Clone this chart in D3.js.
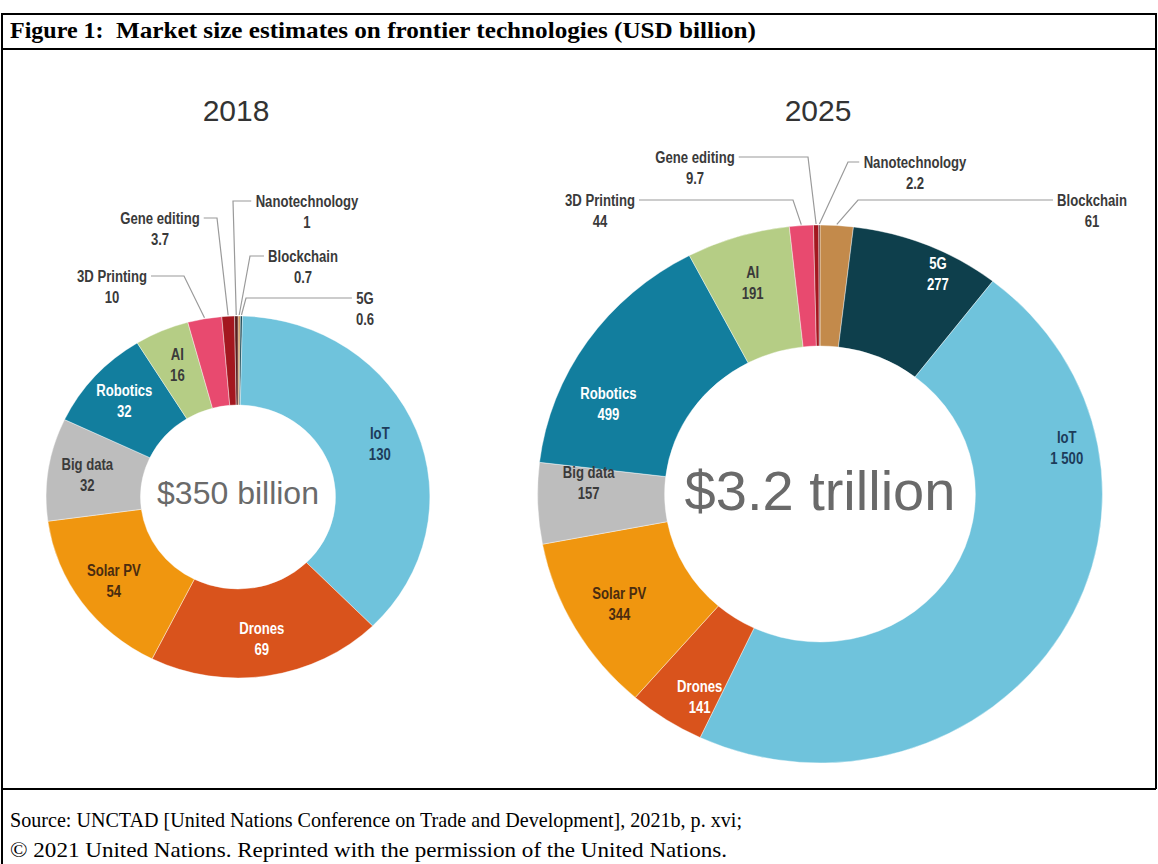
<!DOCTYPE html>
<html>
<head>
<meta charset="utf-8">
<script src="https://cdn.jsdelivr.net/npm/d3@7"></script>
<style>
  html, body { margin: 0; padding: 0; background: #fff; }
  svg { display: block; }
</style>
</head>
<body>
<script>
// ---------------- DATA ----------------
const categories = ["Blockchain","5G","IoT","Drones","Solar PV","Big data","Robotics","AI","3D Printing","Gene editing","Nanotechnology"];
const values2018 = [0.7, 0.6, 130, 69, 54, 32, 32, 16, 10, 3.7, 1];
const values2025 = [61, 277, 1500, 141, 344, 157, 499, 191, 44, 9.7, 2.2];
const valueText2018 = ["0.7","0.6","130","69","54","32","32","16","10","3.7","1"];
const valueText2025 = ["61","277","1 500","141","344","157","499","191","44","9.7","2.2"];
const years = ["2018", "2025"];
const totals = ["$350 billion", "$3.2 trillion"];
const titleLabel = "Figure 1:";
const titleText = "Market size estimates on frontier technologies (USD billion)";
const sourceLines = [
  "Source: UNCTAD [United Nations Conference on Trade and Development], 2021b, p. xvi;",
  "\u00A9 2021 United Nations. Reprinted with the permission of the United Nations."
];

// ---------------- STYLE ----------------
const colors = {
  "Blockchain": "#c38a4b", "5G": "#0e3f4c", "IoT": "#6fc3dc", "Drones": "#d9531c",
  "Solar PV": "#f0960f", "Big data": "#bdbdbd", "Robotics": "#127e9e", "AI": "#b5cd85",
  "3D Printing": "#e84a6f", "Gene editing": "#a3171f", "Nanotechnology": "#5a2020"
};
const textColors = {
  "IoT": "#1d3c5a", "Drones": "#ffffff", "Solar PV": "#4a2c10", "Big data": "#3a3a3a",
  "Robotics": "#ffffff", "AI": "#3a3a3a", "5G": "#ffffff"
};
const outsideColor = "#3a3a3a";

// ---------------- LAYOUT ----------------
const W = 1158, H = 864;
const charts = [
  { values: values2018, texts: valueText2018, cx: 238, cy: 497, ro: 181, ri: 92, sx: 1.06,
    yearY: 110, centerFont: 32, labelR: 0.795,
    inside: ["IoT","Drones","Solar PV","Big data","Robotics","AI"],
    overrides: {},
    outside: {
      "Nanotechnology": { x: 307, y: 201, side: "left",  elbow: 233 },
      "Gene editing":   { x: 160, y: 218, side: "right", elbow: 217 },
      "Blockchain":     { x: 303, y: 256, side: "left",  elbow: 250 },
      "3D Printing":    { x: 112, y: 276, side: "right", elbow: 184 },
      "5G":             { x: 365, y: 298, side: "left",  elbow: 246 }
    } },
  { values: values2025, texts: valueText2025, cx: 820, cy: 494, ro: 269, ri: 148, sx: 1.05,
    yearY: 110, centerFont: 56, labelR: 0.82,
    inside: ["5G","IoT","Drones","Solar PV","Big data","Robotics","AI"],
    overrides: { "IoT": { a: 79, r: 0.89 }, "5G": { a: 27, r: 0.92 }, "Robotics": { a: 294 },
                 "Big data": { a: 273 }, "Drones": { a: 209.5, r: 0.865 } },
    outside: {
      "Gene editing":   { x: 695, y: 157, side: "right", elbow: 808 },
      "Nanotechnology": { x: 915, y: 162, side: "left",  elbow: 848 },
      "3D Printing":    { x: 600, y: 200, side: "right", elbow: 793 },
      "Blockchain":     { x: 1092, y: 200, side: "left", elbow: 858 }
    } }
];

const svg = d3.select("body").append("svg").attr("width", W).attr("height", H);

// frame
const frame = svg.append("g").attr("stroke", "#000").attr("stroke-width", 2).attr("fill", "none");
frame.append("line").attr("x1", 2).attr("x2", 1156).attr("y1", 14).attr("y2", 14);
frame.append("line").attr("x1", 2).attr("x2", 1156).attr("y1", 49).attr("y2", 49);
frame.append("line").attr("x1", 2).attr("x2", 1156).attr("y1", 789).attr("y2", 789);
frame.append("line").attr("x1", 2).attr("x2", 2).attr("y1", 13).attr("y2", 864);
frame.append("line").attr("x1", 1156).attr("x2", 1156).attr("y1", 13).attr("y2", 789);

// title
const serif = "'Liberation Serif', 'Times New Roman', serif";
svg.append("text").attr("x", 10).attr("y", 38)
  .attr("font-family", serif).attr("font-weight", "bold").attr("font-size", 24)
  .text(titleLabel);
svg.append("text").attr("x", 116).attr("y", 38)
  .attr("font-family", serif).attr("font-weight", "bold").attr("font-size", 24)
  .attr("textLength", 640).attr("lengthAdjust", "spacingAndGlyphs")
  .text(titleText);

// source
const srcLens = [732, 717];
sourceLines.forEach((s, i) => {
  svg.append("text").attr("x", 10).attr("y", 827 + i * 30)
    .attr("font-family", serif).attr("font-size", 21)
    .attr("textLength", srcLens[i]).attr("lengthAdjust", "spacingAndGlyphs")
    .attr("fill", "#000")
    .text(s);
});

const labelFont = "'Liberation Sans', Arial, sans-serif";
const narrow = 0.82;

function addLabel(g, x, y, lines, color, size) {
  const t = g.append("text")
    .attr("transform", `translate(${x},${y}) scale(${narrow},1)`)
    .attr("text-anchor", "middle")
    .attr("font-family", labelFont).attr("font-weight", "bold")
    .attr("font-size", size).attr("fill", color);
  lines.forEach((l, i) => {
    t.append("tspan").attr("x", 0).attr("y", i * 21).attr("dy", "0.35em").text(l);
  });
  return t;
}

charts.forEach((c, ci) => {
  const data = categories.map((k, i) => ({ key: k, v: c.values[i], t: c.texts[i] }));
  const pie = d3.pie().sort(null).value(d => d.v).startAngle(0).endAngle(2 * Math.PI);
  const arcs = pie(data);
  const arc = d3.arc().innerRadius(c.ri).outerRadius(c.ro);

  const g = svg.append("g");
  g.append("g")
    .attr("transform", `translate(${c.cx},${c.cy}) scale(${c.sx},1)`)
    .selectAll("path").data(arcs).join("path")
    .attr("d", arc)
    .attr("fill", d => colors[d.data.key])
    .attr("stroke", "#fff").attr("stroke-width", 0.4);

  // year title
  g.append("text").attr("x", c.cx - 2).attr("y", c.yearY).attr("dy", "0.35em")
    .attr("text-anchor", "middle").attr("font-family", labelFont)
    .attr("font-size", 30).attr("fill", "#333").text(years[ci]);

  // center total
  g.append("text").attr("x", c.cx).attr("y", c.cy - 4).attr("dy", "0.35em")
    .attr("text-anchor", "middle").attr("font-family", labelFont)
    .attr("font-size", c.centerFont).attr("fill", "#6a6a6a").text(totals[ci]);

  const pt = (angDeg, r) => {
    const a = angDeg * Math.PI / 180;
    return [c.cx + c.sx * r * Math.sin(a), c.cy - r * Math.cos(a)];
  };

  arcs.forEach(d => {
    const key = d.data.key;
    const mid = (d.startAngle + d.endAngle) / 2 * 180 / Math.PI;
    if (c.inside.includes(key)) {
      const o = c.overrides[key] || {};
      const ang = o.a !== undefined ? o.a : mid;
      const r = (o.r !== undefined ? o.r : c.labelR) * c.ro;
      const [x, y] = pt(ang, r);
      addLabel(g, x, y - 10.5, [key, d.data.t], textColors[key], 16);
    } else if (c.outside[key]) {
      const o = c.outside[key];
      const t = addLabel(g, o.x, o.y, [key, d.data.t], outsideColor, 16);
      const w = t.node().getBBox().width * narrow;
      const startX = o.side === "left" ? o.x - w / 2 - 4 : o.x + w / 2 + 4;
      const [wx, wy] = pt(mid, c.ro + 1);
      g.append("path")
        .attr("d", d3.line()([[startX, o.y], [o.elbow, o.y], [wx, wy]]))
        .attr("fill", "none").attr("stroke", "#9a9a9a").attr("stroke-width", 1.2);
    }
  });
});
</script>
</body>
</html>
